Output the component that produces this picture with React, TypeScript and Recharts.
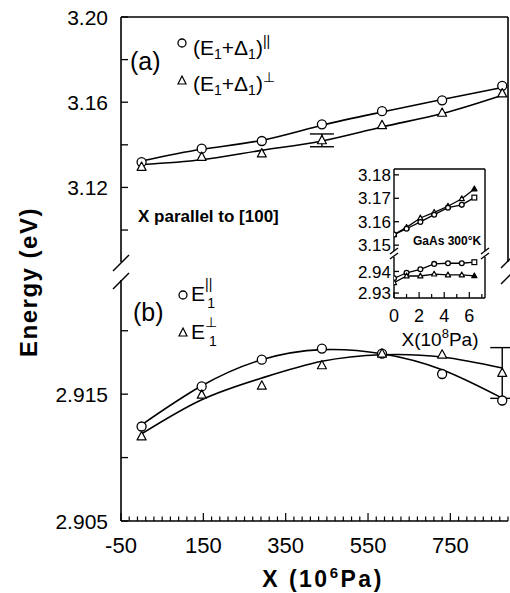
import React from 'react';
import { ComposedChart, Line, XAxis, YAxis, ReferenceLine, ErrorBar } from 'recharts';

const FONT = "'Liberation Sans', Arial, Helvetica, sans-serif";

// ---------- main chart data ----------
const stress = [0, 146, 292, 438, 584, 730, 876];
// panel (a)
const aPar = [3.1319, 3.1382, 3.1418, 3.1496, 3.1558, 3.1609, 3.1677];
const aPerp = [3.1296, 3.1343, 3.1359, 3.1421, 3.1492, 3.155, 3.1641];
const aParFit = [3.1324, 3.1379, 3.1421, 3.1492, 3.1554, 3.1613, 3.1669];
const aPerpFit = [3.1308, 3.133, 3.1374, 3.1418, 3.1484, 3.1547, 3.1633];
const aPerpErr: (number | null)[] = [null, null, null, 0.003, null, null, null];
// panel (b)
const bPar = [2.91245, 2.91561, 2.91772, 2.91859, 2.91819, 2.91659, 2.9145];
const bPerp = [2.91166, 2.91495, 2.91566, 2.91727, 2.91819, 2.91811, 2.91667];
const bParFit = [2.91258, 2.91566, 2.91772, 2.91851, 2.91819, 2.91693, 2.91469];
const bPerpFit = [2.91187, 2.91456, 2.91627, 2.91759, 2.91811, 2.91793, 2.91706];
const bPerpErr: (number | null)[] = [null, null, null, null, null, null, 0.002];

// axes
const xDomain = [-50, 890];
const xMajorTicks = [-50, 150, 350, 550, 750];
const xMinorStep = 20;
const xTicks: number[] = [];
for (let v = xDomain[0]; v <= xDomain[1] + 1e-9; v += xMinorStep) xTicks.push(v);

const topDomain = [3.085, 3.2];
const topTicks = [3.1, 3.12, 3.14, 3.16, 3.18, 3.2];
const topTickLabels = ['', '3.12', '', '3.16', '', '3.20'];
const botDomain = [2.905, 2.924];
const botTicks = [2.905, 2.91, 2.915, 2.92];
const botTickLabels = ['2.905', '', '2.915', ''];

// ---------- inset data ----------
const insetX = [0, 1.0, 2.1, 3.2, 4.3, 5.4, 6.4];
const insetUpA = [3.1545, 3.1576, 3.1616, 3.164, 3.1666, 3.1698, 3.174];
const insetUpB = [3.1545, 3.157, 3.1599, 3.163, 3.166, 3.1672, 3.1703];
const insetLoC = [2.9368, 2.9394, 2.941, 2.9435, 2.9438, 2.9438, 2.9443];
const insetLoT = [2.9348, 2.9379, 2.9379, 2.9388, 2.9384, 2.9384, 2.938];
const insetXDomain = [0, 7.25];
const insetXTicks = [0, 1, 2, 3, 4, 5, 6, 7];
const insetXLabels = ['0', '', '2', '', '4', '', '6', ''];
const insetUpDomain = [3.1475, 3.1825];
const insetUpTicks = [3.15, 3.16, 3.17, 3.18];
const insetUpLabels = ['3.15', '3.16', '3.17', '3.18'];
const insetLoDomain = [2.9277, 2.9467];
const insetLoTicks = [2.93, 2.94];
const insetLoLabels = ['2.93', '2.94'];

const topData = stress.map((x, i) => ({ x, c: aPar[i], t: aPerp[i], cf: aParFit[i], tf: aPerpFit[i], te: aPerpErr[i] }));
const botData = stress.map((x, i) => ({ x, c: bPar[i], t: bPerp[i], cf: bParFit[i], tf: bPerpFit[i], te: bPerpErr[i] }));
const insetUpData = insetX.map((x, i) => ({ x, a: insetUpA[i], b: insetUpB[i] }));
const insetLoData = insetX.map((x, i) => ({ x, c: insetLoC[i], t: insetLoT[i] }));

// ---------- markers ----------
const circleDot = (r: number, lastSquare = false) => (props: any) => {
  const { cx, cy, index } = props;
  if (cx == null || cy == null) return <g key={index} />;
  if (lastSquare && index === 6) {
    return <rect key={index} x={cx - r} y={cy - r} width={2 * r} height={2 * r} fill="#fff" stroke="#000" strokeWidth={1.2} />;
  }
  return <circle key={index} cx={cx} cy={cy} r={r} fill="#fff" stroke="#000" strokeWidth={1.3} />;
};
const triDot = (s: number, lastFilled = false) => (props: any) => {
  const { cx, cy, index } = props;
  if (cx == null || cy == null) return <g key={index} />;
  const d = `M${cx},${cy - s * 1.1} L${cx + s},${cy + s * 0.75} L${cx - s},${cy + s * 0.75} Z`;
  const filled = lastFilled && index === 6;
  return <path key={index} d={d} fill={filled ? '#000' : '#fff'} stroke="#000" strokeWidth={1.2} strokeLinejoin="round" />;
};

// ---------- ticks ----------
const yTick = (labels: string[], len: number, gap: number, size: number) => (props: any) => {
  const { x, y, index } = props;
  const lab = labels[index];
  return (
    <g>
      <line x1={x} x2={x + len} y1={y} y2={y} stroke="#000" strokeWidth={1.3} />
      {lab ? (
        <text x={x - gap} y={y} dy="0.36em" textAnchor="end" fontSize={size} fontFamily={FONT} fill="#000">
          {lab}
        </text>
      ) : null}
    </g>
  );
};

const mainXTick = (props: any) => {
  const { x, y, payload } = props;
  const v = payload.value;
  const major = xMajorTicks.some((m) => Math.abs(m - v) < 1e-6);
  return (
    <g>
      <line x1={x} x2={x} y1={y} y2={y - (major ? 8 : 4.5)} stroke="#000" strokeWidth={1.2} />
      {major ? (
        <text x={x} y={y + 32} textAnchor="middle" fontSize={22} fontFamily={FONT} fill="#000">
          {String(v)}
        </text>
      ) : null}
    </g>
  );
};

const insetXTick = (props: any) => {
  const { x, y, index } = props;
  const lab = insetXLabels[index];
  return (
    <g>
      <line x1={x} x2={x} y1={y} y2={y - (lab ? 6 : 4)} stroke="#000" strokeWidth={1.2} />
      {lab ? (
        <text x={x} y={y + 24} textAnchor="middle" fontSize={18} fontFamily={FONT} fill="#000">
          {lab}
        </text>
      ) : null}
    </g>
  );
};

const AX = { stroke: '#000', strokeWidth: 1.6 };
const pos: React.CSSProperties = { position: 'absolute', left: 0, top: 0 };

export default function App() {
  return (
    <div style={{ position: 'absolute', left: 0, top: 0, width: 510, height: 593, background: '#fff', overflow: 'hidden' }}>
      {/* top panel (a) */}
      <div style={pos}>
        <ComposedChart width={510} height={262} data={topData} margin={{ top: 17, right: 2, bottom: 0, left: 0 }}>
          <XAxis type="number" dataKey="x" domain={xDomain} hide allowDataOverflow />
          <YAxis type="number" domain={topDomain} ticks={topTicks} width={121} tickSize={0} tickMargin={0}
            tick={yTick(topTickLabels, 7, 13, 21)} axisLine={AX} tickLine={false} allowDataOverflow interval={0} />
          <ReferenceLine y={3.2} stroke="#000" strokeWidth={1.6} />
          <ReferenceLine x={890} stroke="#000" strokeWidth={1.6} />
          <Line dataKey="cf" type="natural" stroke="#000" strokeWidth={1.6} dot={false} activeDot={false} isAnimationActive={false} />
          <Line dataKey="tf" type="natural" stroke="#000" strokeWidth={1.6} dot={false} activeDot={false} isAnimationActive={false} />
          <Line dataKey="c" stroke="none" dot={circleDot(4.5)} activeDot={false} isAnimationActive={false} />
          <Line dataKey="t" stroke="none" dot={triDot(4.5)} activeDot={false} isAnimationActive={false} />
          <Line dataKey="t" stroke="none" dot={false} activeDot={false} isAnimationActive={false}>
            <ErrorBar dataKey="te" width={12} stroke="#000" strokeWidth={1.4} direction="y" />
          </Line>
        </ComposedChart>
      </div>
      {/* bottom panel (b) */}
      <div style={pos}>
        <ComposedChart width={510} height={593} data={botData} margin={{ top: 280, right: 2, bottom: 0, left: 0 }}>
          <XAxis type="number" dataKey="x" domain={xDomain} ticks={xTicks} height={72} tickSize={0} tickMargin={0}
            tick={mainXTick} axisLine={AX} tickLine={false} interval={0} allowDataOverflow />
          <YAxis type="number" domain={botDomain} ticks={botTicks} width={121} tickSize={0} tickMargin={0}
            tick={yTick(botTickLabels, 7, 13, 21)} axisLine={AX} tickLine={false} allowDataOverflow interval={0} />
          <Line dataKey="cf" type="natural" stroke="#000" strokeWidth={1.6} dot={false} activeDot={false} isAnimationActive={false} />
          <Line dataKey="tf" type="natural" stroke="#000" strokeWidth={1.6} dot={false} activeDot={false} isAnimationActive={false} />
          <Line dataKey="c" stroke="none" dot={circleDot(4.5)} activeDot={false} isAnimationActive={false} />
          <Line dataKey="t" stroke="none" dot={triDot(4.5)} activeDot={false} isAnimationActive={false} />
          <Line dataKey="t" stroke="none" dot={false} activeDot={false} isAnimationActive={false}>
            <ErrorBar dataKey="te" width={12} stroke="#000" strokeWidth={1.4} direction="y" />
          </Line>
        </ComposedChart>
      </div>
      {/* inset upper */}
      <div style={pos}>
        <ComposedChart width={510} height={262} data={insetUpData} margin={{ top: 169, right: 25, bottom: 11, left: 0 }}>
          <XAxis type="number" dataKey="x" domain={insetXDomain} hide allowDataOverflow />
          <YAxis type="number" domain={insetUpDomain} ticks={insetUpTicks} width={394} tickSize={0} tickMargin={0}
            tick={yTick(insetUpLabels, 5, 3, 17)} axisLine={{ stroke: '#000', strokeWidth: 1.4 }} tickLine={false} allowDataOverflow interval={0} />
          <ReferenceLine y={3.1825} stroke="#000" strokeWidth={1.4} />
          <ReferenceLine x={7.25} stroke="#000" strokeWidth={1.4} />
          <Line dataKey="a" type="linear" stroke="#000" strokeWidth={1.3} dot={triDot(2.6, true)} activeDot={false} isAnimationActive={false} />
          <Line dataKey="b" type="linear" stroke="#000" strokeWidth={1.3} dot={circleDot(2.4, true)} activeDot={false} isAnimationActive={false} />
        </ComposedChart>
      </div>
      {/* inset lower */}
      <div style={pos}>
        <ComposedChart width={510} height={360} data={insetLoData} margin={{ top: 257, right: 25, bottom: 0, left: 0 }}>
          <XAxis type="number" dataKey="x" domain={insetXDomain} ticks={insetXTicks} height={62} tickSize={0} tickMargin={0}
            tick={insetXTick} axisLine={{ stroke: '#000', strokeWidth: 1.4 }} tickLine={false} interval={0} allowDataOverflow />
          <YAxis type="number" domain={insetLoDomain} ticks={insetLoTicks} width={394} tickSize={0} tickMargin={0}
            tick={yTick(insetLoLabels, 5, 3, 17)} axisLine={{ stroke: '#000', strokeWidth: 1.4 }} tickLine={false} allowDataOverflow interval={0} />
          <ReferenceLine x={7.25} stroke="#000" strokeWidth={1.4} />
          <Line dataKey="c" type="linear" stroke="#000" strokeWidth={1.3} dot={circleDot(2.4, true)} activeDot={false} isAnimationActive={false} />
          <Line dataKey="t" type="linear" stroke="#000" strokeWidth={1.3} dot={triDot(2.6, true)} activeDot={false} isAnimationActive={false} />
        </ComposedChart>
      </div>
      {/* annotations */}
      <svg width={510} height={593} style={{ ...pos, pointerEvents: 'none' }} fontFamily={FONT}>
        {/* axis breaks main */}
        <g stroke="#000" strokeWidth={1.5}>
          <line x1={113} y1={271} x2={129} y2={255} />
          <line x1={113} y1={289} x2={129} y2={273} />
          <line x1={501} y1={268} x2={511} y2={258} />
          <line x1={501} y1={284} x2={511} y2={274} />
        </g>
        {/* axis breaks inset */}
        <g stroke="#000" strokeWidth={1.3}>
          <line x1={390} y1={254} x2={398} y2={248} />
          <line x1={390} y1={259} x2={398} y2={253} />
          <line x1={481} y1={254} x2={489} y2={248} />
          <line x1={481} y1={259} x2={489} y2={253} />
        </g>
        {/* y label */}
        <text transform="translate(37,282) rotate(-90)" textAnchor="middle" fontSize={24} fontWeight="bold" letterSpacing={1.5}>
          Energy (eV)
        </text>
        {/* x label */}
        <text x={323} y={587} textAnchor="middle" fontSize={23} fontWeight="bold" letterSpacing={2.5}>
          X  (10<tspan dy={-9} fontSize={15}>6</tspan><tspan dy={9}>Pa)</tspan>
        </text>
        {/* legend (a) */}
        <text x={130} y={70} fontSize={25}>(a)</text>
        <circle cx={182} cy={43} r={4} fill="#fff" stroke="#000" strokeWidth={1.3} />
        <text x={193} y={55} fontSize={21}>
          (E<tspan fontSize={14} dy={4}>1</tspan><tspan dy={-4}>+Δ</tspan><tspan fontSize={14} dy={4}>1</tspan><tspan dy={-4}>)</tspan><tspan fontSize={14} dy={-9}>||</tspan>
        </text>
        <path d="M182,76 L186,84 L178,84 Z" fill="#fff" stroke="#000" strokeWidth={1.2} />
        <text x={193} y={91} fontSize={21}>
          (E<tspan fontSize={14} dy={4}>1</tspan><tspan dy={-4}>+Δ</tspan><tspan fontSize={14} dy={4}>1</tspan><tspan dy={-4}>)</tspan><tspan fontSize={14} dy={-9}>⊥</tspan>
        </text>
        {/* X parallel */}
        <text x={138} y={222} fontSize={17} fontWeight="bold">X parallel to [100]</text>
        {/* legend (b) */}
        <text x={133} y={321} fontSize={25}>(b)</text>
        <circle cx={183} cy={295} r={4} fill="#fff" stroke="#000" strokeWidth={1.3} />
        <text x={191} y={301} fontSize={21}>
          E<tspan fontSize={14} dy={-12}>||</tspan><tspan fontSize={14} dx={-5} dy={19}>1</tspan>
        </text>
        <path d="M183,328 L187,336 L179,336 Z" fill="#fff" stroke="#000" strokeWidth={1.2} />
        <text x={191} y={339} fontSize={21}>
          E<tspan fontSize={14} dy={-12}>⊥</tspan><tspan fontSize={14} dx={-8} dy={19}>1</tspan>
        </text>
        {/* inset texts */}
        <text x={413} y={245} fontSize={12} fontWeight="bold">GaAs 300°K</text>
        <text x={440} y={346} textAnchor="middle" fontSize={19}>
          X(10<tspan dy={-8} fontSize={13}>8</tspan><tspan dy={8}>Pa)</tspan>
        </text>
      </svg>
    </div>
  );
}
